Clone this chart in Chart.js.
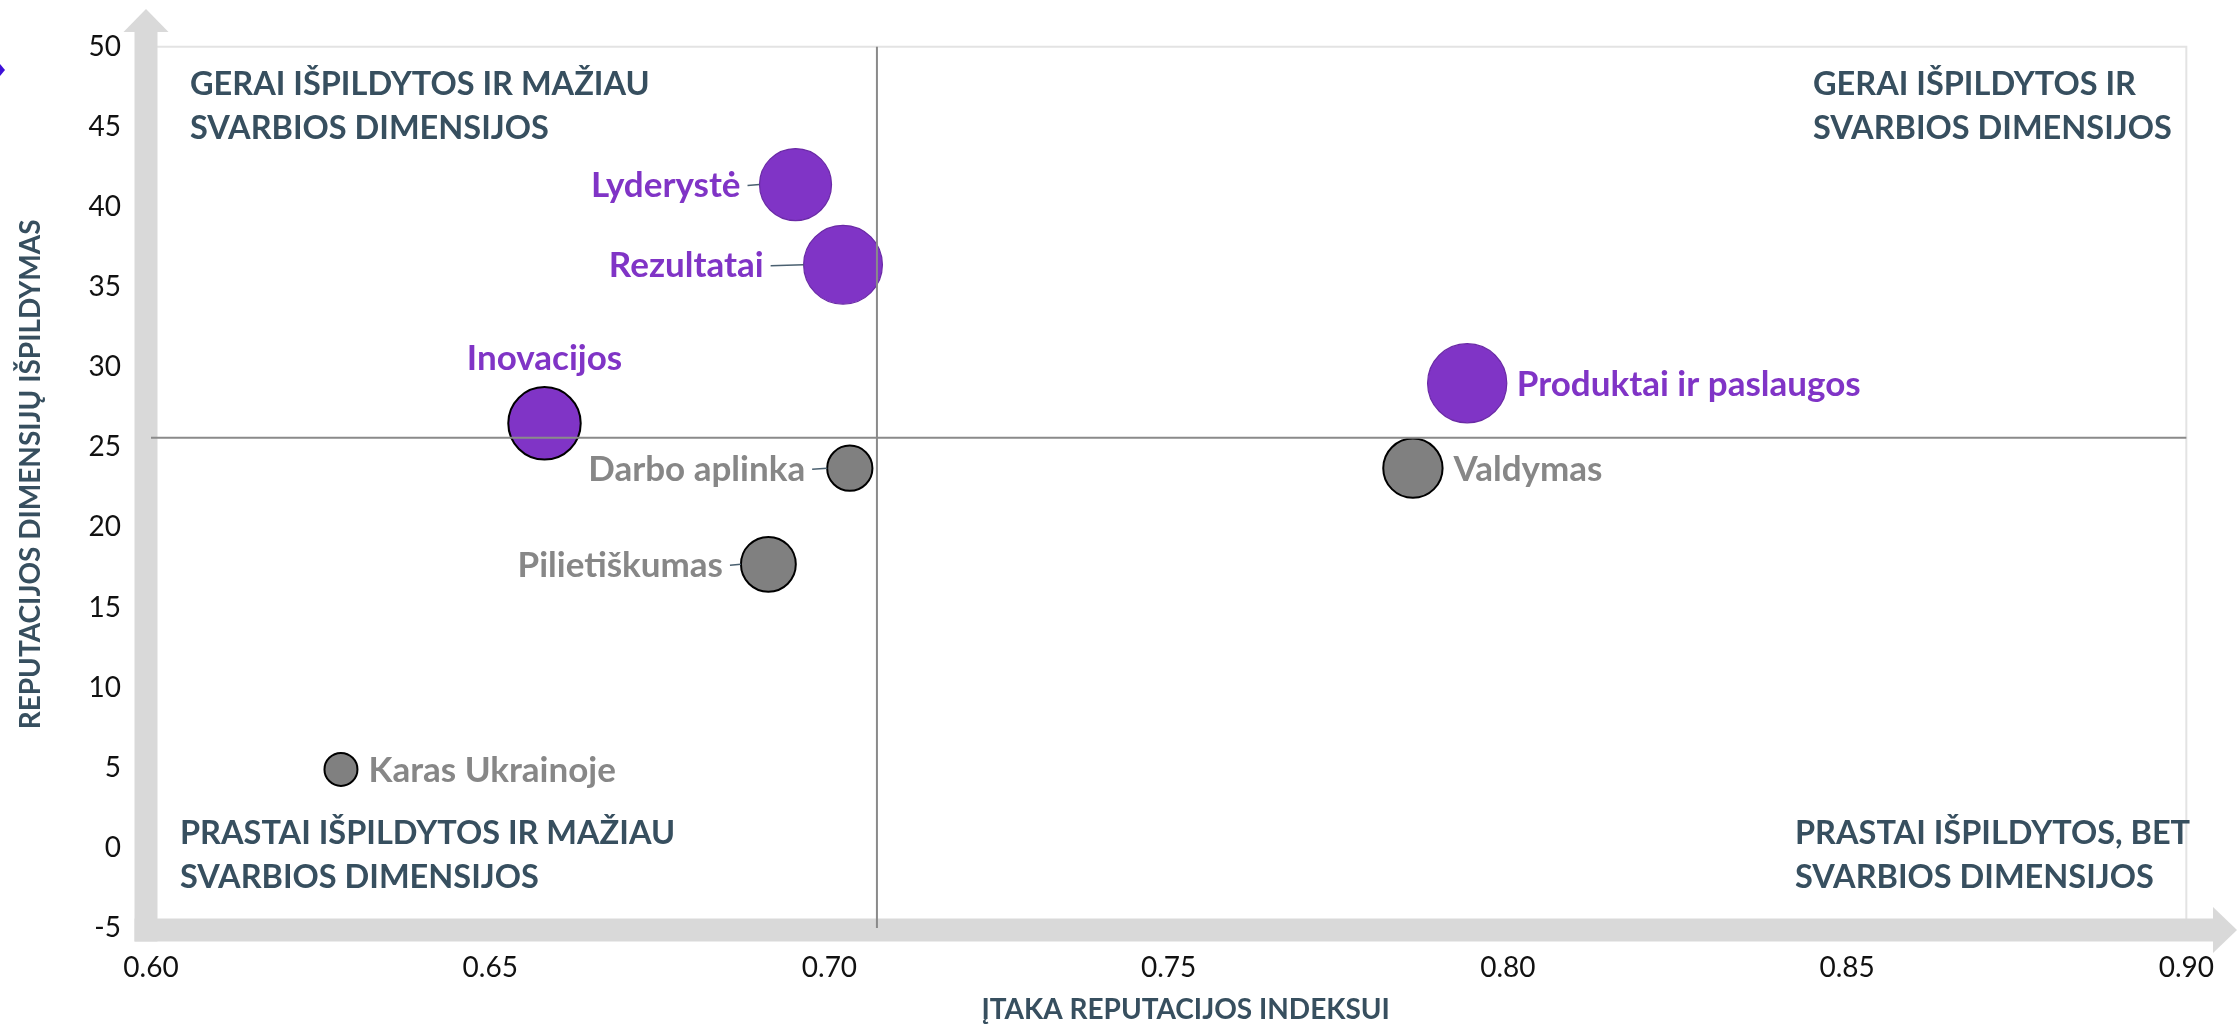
<!DOCTYPE html>
<html>
<head>
<meta charset="utf-8">
<script src="https://cdn.jsdelivr.net/npm/chart.js@4.4.1/dist/chart.umd.min.js"></script>
<style>
  html, body { margin: 0; padding: 0; background: #fff; }
  canvas { display: block; }
</style>
</head>
<body>
<canvas id="chart" width="2237" height="1027"></canvas>
<script>
// dimensions of reputation, their influence on the index and performance
const dimensions = ['Lyderystė', 'Rezultatai', 'Inovacijos', 'Darbo aplinka', 'Pilietiškumas', 'Produktai ir paslaugos', 'Valdymas', 'Karas Ukrainoje'];
const influence = [0.695, 0.702, 0.658, 0.703, 0.691, 0.794, 0.786, 0.628];
const performance = [41.4, 36.4, 26.5, 23.7, 17.7, 29.0, 23.7, 4.9];
const bubbleSize = [81, 97, 82, 32, 47, 98, 55, 17];
const highlighted = [true, true, true, false, false, true, false, false];

// quadrant split values
const influenceSplit = 0.707;
const performanceSplit = 25.6;

const xMin = 0.60, xMax = 0.90, xStep = 0.05;
const yMin = -5, yMax = 50, yStep = 5;

const xTitle = 'ĮTAKA REPUTACIJOS INDEKSUI';
const yTitle = 'REPUTACIJOS DIMENSIJŲ IŠPILDYMAS';
const quadrantTexts = {
    topLeft: ['GERAI IŠPILDYTOS IR MAŽIAU', 'SVARBIOS DIMENSIJOS'],
    topRight: ['GERAI IŠPILDYTOS IR', 'SVARBIOS DIMENSIJOS'],
    bottomLeft: ['PRASTAI IŠPILDYTOS IR MAŽIAU', 'SVARBIOS DIMENSIJOS'],
    bottomRight: ['PRASTAI IŠPILDYTOS, BET', 'SVARBIOS DIMENSIJOS']
};

// where each label sits relative to its bubble
const labelSide = ['left', 'left', 'top', 'left', 'left', 'right', 'right', 'right'];
const labelGap = [19, 40, 17, 22, 18, 10, 11, 11];

const PURPLE = '#8034c6';
const GREY = '#808080';
const LABEL_GREY = '#878787';
const SLATE = '#374f5f';
const ARROW = '#d9d9d9';
const FONT = 'Lato, "Open Sans", sans-serif';

const radiusOf = (size) => 40 * Math.sqrt(size / 100);

const points = influence.map((x, i) => ({ x: x, y: performance[i], r: radiusOf(bubbleSize[i]) }));

const quadrantPlugin = {
    id: 'quadrants',
    beforeDraw(chart) {
        const ctx = chart.ctx;
        ctx.save();
        ctx.fillStyle = '#fff';
        ctx.fillRect(0, 0, chart.width, chart.height);
        ctx.restore();
    },
    beforeDatasetsDraw(chart) {
        const { ctx, chartArea: a } = chart;
        ctx.save();

        // thin plot frame (top and right)
        ctx.strokeStyle = '#e3e3e3';
        ctx.lineWidth = 2;
        ctx.beginPath();
        ctx.moveTo(a.left, a.top);
        ctx.lineTo(a.right, a.top);
        ctx.lineTo(a.right, a.bottom);
        ctx.stroke();

        // the big grey arrows standing in for the axes
        const bx = a.left - 5, by = a.bottom + 2, half = 11.5;
        ctx.fillStyle = ARROW;
        ctx.fillRect(bx - half, 32, half * 2, by + half - 32);
        ctx.beginPath();
        ctx.moveTo(bx - 22.5, 32);
        ctx.lineTo(bx + 22.5, 32);
        ctx.lineTo(bx, 9);
        ctx.closePath();
        ctx.fill();
        const hx = chart.width - 24;
        ctx.fillRect(bx - half, by - half, hx - (bx - half), half * 2);
        ctx.beginPath();
        ctx.moveTo(hx, by - 23);
        ctx.lineTo(hx, by + 23);
        ctx.lineTo(chart.width, by);
        ctx.closePath();
        ctx.fill();

        // quadrant captions
        ctx.fillStyle = SLATE;
        ctx.font = 'bold 32.5px ' + FONT;
        ctx.textAlign = 'left';
        ctx.textBaseline = 'alphabetic';
        const lines = (arr, x, y) => arr.forEach((t, i) => ctx.fillText(t, x, y + i * 44 + 11.5));
        lines(quadrantTexts.topLeft, a.left + 39, a.top + 37);
        lines(quadrantTexts.topRight, a.left + 1662, a.top + 37);
        lines(quadrantTexts.bottomLeft, a.left + 29, a.bottom - 96);
        lines(quadrantTexts.bottomRight, a.left + 1644, a.bottom - 96);

        // axis titles
        ctx.font = 'bold 28px ' + FONT;
        ctx.textAlign = 'center';
        ctx.textBaseline = 'middle';
        ctx.fillText(xTitle, (a.left + a.right) / 2 + 17, 1010);
        ctx.save();
        ctx.translate(31, (a.top + a.bottom) / 2 - 13);
        ctx.rotate(-Math.PI / 2);
        ctx.fillText(yTitle, 0, 0);
        ctx.restore();

        // small stray marker at the left edge
        ctx.fillStyle = '#3d10d8';
        ctx.beginPath();
        ctx.moveTo(-5, 70);
        ctx.lineTo(0, 64);
        ctx.lineTo(5, 70);
        ctx.lineTo(0, 76);
        ctx.closePath();
        ctx.fill();

        ctx.restore();
    },
    afterDatasetsDraw(chart) {
        const { ctx, chartArea: a, scales } = chart;
        ctx.save();

        // quadrant dividers, on top of the bubbles
        const sx = scales.x.getPixelForValue(influenceSplit);
        const sy = scales.y.getPixelForValue(performanceSplit);
        ctx.strokeStyle = '#8a8a8a';
        ctx.lineWidth = 2;
        ctx.beginPath();
        ctx.moveTo(sx, a.top);
        ctx.lineTo(sx, a.bottom);
        ctx.moveTo(a.left, sy);
        ctx.lineTo(a.right, sy);
        ctx.stroke();

        // bubble labels
        const meta = chart.getDatasetMeta(0);
        ctx.font = 'bold 35px ' + FONT;
        ctx.textBaseline = 'alphabetic';
        meta.data.forEach((el, i) => {
            const r = points[i].r;
            const gap = labelGap[i];
            ctx.fillStyle = highlighted[i] ? PURPLE : LABEL_GREY;
            if (labelSide[i] === 'left') {
                const edge = el.x - r;
                const tx = edge - gap;
                ctx.textAlign = 'right';
                ctx.fillText(dimensions[i], tx, el.y + 12.5);
                ctx.strokeStyle = '#4a6070';
                ctx.lineWidth = 1.5;
                ctx.beginPath();
                ctx.moveTo(tx + 7, el.y + 1);
                ctx.lineTo(edge, el.y);
                ctx.stroke();
            } else if (labelSide[i] === 'right') {
                ctx.textAlign = 'left';
                ctx.fillText(dimensions[i], el.x + r + gap, el.y + 12.5);
            } else {
                ctx.textAlign = 'center';
                ctx.fillText(dimensions[i], el.x, el.y - r - gap);
            }
        });
        ctx.restore();
    }
};

new Chart(document.getElementById('chart'), {
    type: 'bubble',
    data: {
        datasets: [{
            label: 'Dimensijos',
            data: points,
            backgroundColor: highlighted.map(h => h ? PURPLE : GREY),
            borderColor: dimensions.map((d, i) => (highlighted[i] && d !== 'Inovacijos') ? '#6a2aa6' : '#000'),
            borderWidth: highlighted.map((h, i) => (h && dimensions[i] !== 'Inovacijos') ? 1.2 : 2),
            hoverRadius: 0,
            clip: false
        }]
    },
    options: {
        responsive: false,
        animation: false,
        devicePixelRatio: 1,
        layout: { padding: { top: 43, right: 47, left: 0, bottom: 0 } },
        plugins: {
            legend: { display: false },
            tooltip: { enabled: false }
        },
        scales: {
            x: {
                type: 'linear',
                min: xMin,
                max: xMax,
                grid: { display: false, drawTicks: false },
                border: { display: false },
                ticks: {
                    stepSize: xStep,
                    padding: 23,
                    color: '#111',
                    font: { family: FONT, size: 28 },
                    callback: v => v.toFixed(2)
                },
                afterFit: s => { s.height = 99; }
            },
            y: {
                type: 'linear',
                min: yMin,
                max: yMax,
                grid: { display: false, drawTicks: false },
                border: { display: false },
                ticks: {
                    stepSize: yStep,
                    padding: 30,
                    color: '#111',
                    font: { family: FONT, size: 28 }
                },
                afterFit: s => { s.width = 151; }
            }
        }
    },
    plugins: [quadrantPlugin]
});
</script>
</body>
</html>
